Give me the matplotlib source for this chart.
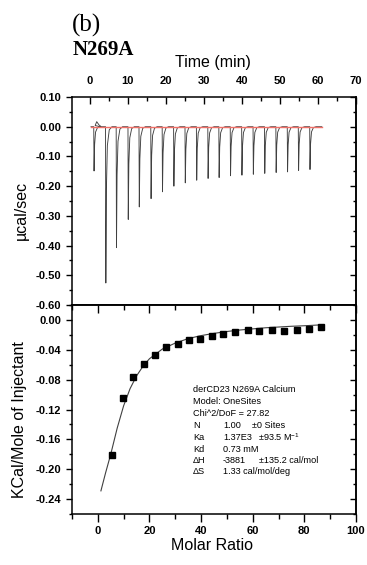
import numpy as np
import matplotlib
matplotlib.use('Agg')
import matplotlib.pyplot as plt
from matplotlib.ticker import MultipleLocator

plt.rcParams['font.family'] = ['Liberation Sans', 'DejaVu Sans']
plt.rcParams['mathtext.default'] = 'regular'

# raw ITC trace: injection peaks (time in min, minimum in ucal/sec)
peak_time = [1.1, 4.2, 7.0, 10.1, 13.0, 16.1, 19.1, 22.1, 25.1, 28.1,
             31.1, 34.0, 37.0, 40.0, 43.0, 46.0, 49.0, 52.0, 54.9, 57.9]
peak_depth = [-0.149, -0.526, -0.407, -0.312, -0.270, -0.242, -0.219, -0.200,
              -0.189, -0.180, -0.174, -0.171, -0.165, -0.163, -0.160, -0.157,
              -0.154, -0.152, -0.147, -0.144]
trace_start, trace_end = 0.3, 61.0
bump_time = [1.4, 1.8, 2.4, 3.0]
bump_val = [0.004, 0.017, 0.006, 0.0]

# integrated heats
molar_ratio = [5.3, 9.6, 13.6, 17.8, 22.1, 26.4, 30.9, 35.3, 39.7, 44.1,
               48.6, 53.2, 58.0, 62.5, 67.3, 72.2, 77.0, 81.7, 86.4]
heat = [-0.181, -0.105, -0.076, -0.059, -0.047, -0.0365, -0.032, -0.027,
        -0.026, -0.022, -0.0185, -0.0163, -0.014, -0.015, -0.0135, -0.0145,
        -0.0135, -0.012, -0.0101]
fit_x = [1.2, 3, 5, 7.5, 10, 12.5, 15, 17.5, 20, 25, 30, 35, 40, 45, 50,
         55, 60, 65, 70, 75, 80, 87]
fit_y = [-0.229, -0.205, -0.180, -0.145, -0.115, -0.092, -0.075, -0.062,
         -0.052, -0.039, -0.031, -0.025, -0.021, -0.018, -0.0155, -0.0135,
         -0.012, -0.0105, -0.0095, -0.0085, -0.0078, -0.0065]

fit_lines = [('derCD23 N269A Calcium', None, None),
             ('Model: OneSites', None, None),
             ('Chi^2/DoF = 27.82', None, None),
             ('N', '1.00', '\u00b10 Sites'),
             ('Ka', '1.37E3', '\u00b193.5 M$^{-1}$'),
             ('Kd', '0.73 mM', None),
             ('\u0394H', '-3881', '\u00b1135.2 cal/mol'),
             ('\u0394S', '1.33 cal/mol/deg', None)]

# build the trace polyline
tx = [trace_start]
ty = [0.0]
shape = [(-0.08, 0.0), (0.0, 1.0), (0.15, 0.4), (0.4, 0.12), (0.9, 0.02), (1.6, 0.0)]
for i, (t, d) in enumerate(zip(peak_time, peak_depth)):
    for dt, f in shape:
        tx.append(t + dt)
        ty.append(d * f)
    if i == 0:
        tx += bump_time
        ty += bump_val
tx.append(trace_end)
ty.append(0.0)

fig = plt.figure(figsize=(3.67, 5.65), dpi=100)
W, H = 367.0, 565.0
ax1 = fig.add_axes([72 / W, 1 - 305 / H, 284 / W, 208 / H])
ax2 = fig.add_axes([72 / W, 1 - 514 / H, 284 / W, 209 / H])

tickfont = dict(fontsize=8, fontweight='bold')

# top panel
ax1.plot(tx, ty, color='#404040', lw=0.65)
ax1.plot([trace_start, trace_end], [0, 0], color='#f07068', lw=1.0)
ax1.set_xlim(-4.7, 70)
ax1.set_ylim(-0.6, 0.1)
ax1.xaxis.set_minor_locator(MultipleLocator(5))
ax1.yaxis.set_minor_locator(MultipleLocator(0.05))
ax1.tick_params(axis='x', which='both', top=True, bottom=False, labeltop=True,
                labelbottom=False, direction='in', pad=8)
ax1.tick_params(axis='x', which='major', length=5, width=1)
ax1.tick_params(axis='x', which='minor', length=3, width=1)
ax1.tick_params(axis='y', which='both', left=True, right=False, direction='out', pad=4)
ax1.tick_params(axis='y', which='major', length=4, width=1)
ax1.tick_params(axis='y', which='minor', length=2.5, width=1)
yt1 = np.arange(-0.6, 0.101, 0.1)
ax1.set_yticks(yt1)
ax1.set_yticklabels(['%.2f' % v if abs(v) > 1e-9 else '0.00' for v in yt1], **tickfont)
ax1.set_xticks(range(0, 71, 10))
ax1.set_xticklabels([str(v) for v in range(0, 71, 10)], **tickfont)
ax1r = ax1.secondary_yaxis('right')
ax1r.set_yticks(yt1)
ax1r.yaxis.set_minor_locator(MultipleLocator(0.05))
ax1r.tick_params(which='both', direction='in', labelright=False)
ax1r.tick_params(which='major', length=4, width=1)
ax1r.tick_params(which='minor', length=2.5, width=1)

# bottom panel
ax2.plot(fit_x, fit_y, color='#404040', lw=0.8)
ax2.plot(molar_ratio, heat, 's', color='black', markersize=4.8)
ax2.set_xlim(-10, 100)
ax2.set_ylim(-0.26, 0.02)
ax2.set_xticks(range(0, 101, 20))
ax2.set_xticklabels([str(v) for v in range(0, 101, 20)], **tickfont)
ax2.xaxis.set_minor_locator(MultipleLocator(10))
yt = np.arange(-0.24, 0.001, 0.04)
ax2.set_yticks(yt)
ax2.set_yticklabels(['%.2f' % v if abs(v) > 1e-9 else '0.00' for v in yt], **tickfont)
ax2.yaxis.set_minor_locator(MultipleLocator(0.02))
ax2.tick_params(axis='x', which='both', direction='out', pad=3)
ax2.tick_params(axis='x', which='major', length=6, width=1)
ax2.tick_params(axis='x', which='minor', length=3.5, width=1)
ax2.tick_params(axis='y', which='both', direction='out', pad=4)
ax2.tick_params(axis='y', which='major', length=4, width=1)
ax2.tick_params(axis='y', which='minor', length=2.5, width=1)
ax2t = ax2.secondary_xaxis('top')
ax2t.set_xticks(range(0, 101, 20))
ax2t.xaxis.set_minor_locator(MultipleLocator(10))
ax2t.tick_params(which='both', direction='in', labeltop=False)
ax2t.tick_params(which='major', length=6, width=1)
ax2t.tick_params(which='minor', length=3.5, width=1)
ax2r = ax2.secondary_yaxis('right')
ax2r.set_yticks(yt)
ax2r.yaxis.set_minor_locator(MultipleLocator(0.02))
ax2r.tick_params(which='both', direction='in', labelright=False)
ax2r.tick_params(which='major', length=4, width=1)
ax2r.tick_params(which='minor', length=2.5, width=1)

for a in (ax1, ax2, ax1r, ax2t, ax2r):
    for s in a.spines.values():
        s.set_linewidth(1.1)

# fit parameter box (pixel columns / rows of the original figure)
col_px = [193, 223, 252]
pm_px = {'Ka': 258, '\u0394H': 259}
row_px = [390, 402, 413.5, 425, 437, 449, 460.5, 472]
fs = 6.6
for (a, b, c), yy in zip(fit_lines, row_px):
    yf = 1 - yy / H
    fig.text(col_px[0] / W, yf, a, fontsize=fs, va='center')
    if b:
        fig.text(col_px[1] / W, yf, b, fontsize=fs, va='center')
    if c:
        fig.text(pm_px.get(a, col_px[2]) / W, yf, c, fontsize=fs, va='center')

# titles and axis labels
fig.text(72 / W, 1 - 25 / H, '(b)', fontsize=18, family=['Liberation Serif'], va='center')
fig.text(73 / W, 1 - 50 / H, 'N269A', fontsize=15, fontweight='bold',
         family=['Liberation Serif'], va='center')
fig.text(213 / W, 1 - 62 / H, 'Time (min)', fontsize=11.5, ha='center', va='center')
fig.text(212 / W, 1 - 545 / H, 'Molar Ratio', fontsize=11.5, ha='center', va='center')
fig.text(21 / W, 1 - 210 / H, '\u00b5cal/sec', fontsize=11.5, rotation=90,
         ha='center', va='center')
fig.text(20 / W, 1 - 420 / H, 'KCal/Mole of Injectant', fontsize=11.5, rotation=90,
         ha='center', va='center')

fig.savefig('out.png', dpi=100)
